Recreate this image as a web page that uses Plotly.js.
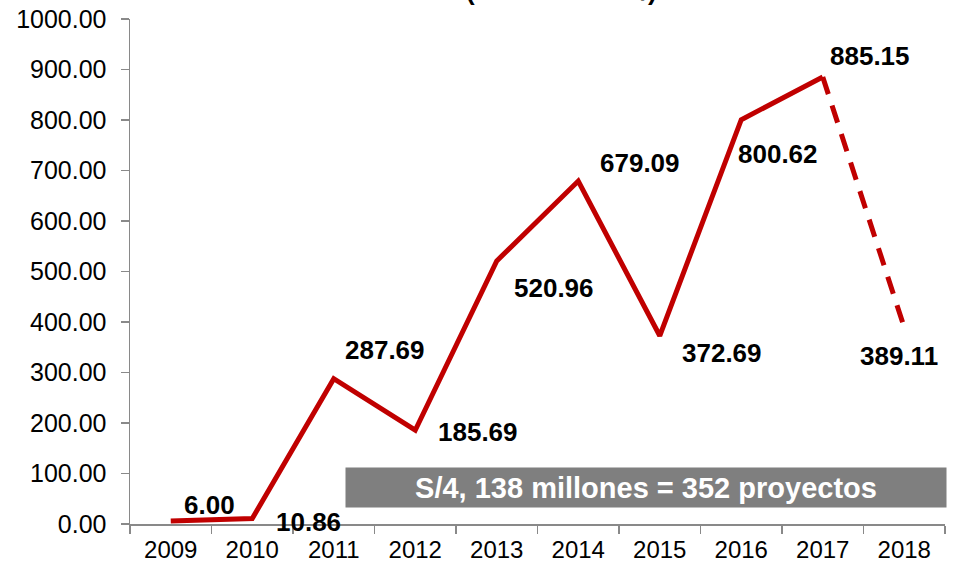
<!DOCTYPE html>
<html>
<head>
<meta charset="utf-8">
<script src="https://cdn.plot.ly/plotly-3.0.1.min.js"></script>
<style>html,body{margin:0;padding:0;background:#fff;}#chart{width:963px;height:570px;}</style>
</head>
<body>
<div id="chart"></div>
<script>
const years = ["2009","2010","2011","2012","2013","2014","2015","2016","2017","2018"];
const values = [6.00, 10.86, 287.69, 185.69, 520.96, 679.09, 372.69, 800.62, 885.15, 389.11];
const labelText = ["6.00","10.86","287.69","185.69","520.96","679.09","372.69","800.62","885.15","389.11"];
const labelShiftX = [39, 56, 51, 63, 57, 62, 62, 37, 47, -5];
const labelShiftY = [16, -3, 29, -2, -27, 18, -17, -34, 21, -28];
const boxText = "S/4, 138 millones = 352 proyectos";
const titleText = "(Millones de S/)";

const FONT = "Liberation Sans, Arial, sans-serif";
const solidN = 9;
const traces = [
  {x: years.slice(0, solidN), y: values.slice(0, solidN), type: "scatter", mode: "lines",
   line: {color: "#c00000", width: 5}, hoverinfo: "skip"},
  {x: years.slice(solidN - 1), y: values.slice(solidN - 1), type: "scatter", mode: "lines",
   line: {color: "#c00000", width: 5, dash: "18px,12px"}, hoverinfo: "skip"}
];

// category axis: annotation x uses the category's serial index
const annotations = years.map((yr, i) => ({
  x: years.indexOf(yr), y: values[i], xref: "x", yref: "y", text: "<b>" + labelText[i] + "</b>", showarrow: false,
  xanchor: "center", yanchor: "middle",
  xshift: labelShiftX[i], yshift: labelShiftY[i],
  font: {family: FONT, size: 26, color: "#000"}
}));
annotations.push({
  xref: "paper", yref: "paper", x: 1.003, y: 0.032, xanchor: "right", yanchor: "bottom",
  text: "<b>" + boxText + "</b>", showarrow: false, bgcolor: "#7f7f7f",
  width: 598, height: 37, align: "center", borderpad: 1,
  font: {family: FONT, size: 29, color: "#fff"}
});
annotations.push({
  xref: "paper", yref: "paper", x: 0.530, y: 1.0, yshift: 11, xanchor: "center", yanchor: "bottom",
  text: "<b>" + titleText + "</b>", showarrow: false,
  font: {family: FONT, size: 26, color: "#000"}
});

const layout = {
  width: 963, height: 570,
  margin: {l: 130, r: 18, t: 19, b: 46},
  paper_bgcolor: "#fff", plot_bgcolor: "#fff",
  showlegend: false,
  xaxis: {type: "category", showgrid: false, zeroline: false, showline: true, linecolor: "#898989", linewidth: 1.5,
          ticks: "outside", tickson: "boundaries", ticklen: 8, tickcolor: "#898989", tickwidth: 1.5,
          ticklabelstandoff: 4,
          tickfont: {family: FONT, size: 24, color: "#000"}, range: [-0.5, 9.5]},
  yaxis: {range: [0, 1000], dtick: 100, tickformat: ".2f", showgrid: false, zeroline: false,
          showline: true, linecolor: "#898989", linewidth: 1.5, ticks: "outside", ticklen: 8,
          tickcolor: "#898989", tickwidth: 1.5, ticklabelstandoff: 9,
          tickfont: {family: FONT, size: 25, color: "#000"}},
  annotations: annotations
};

Plotly.newPlot("chart", traces, layout, {displayModeBar: false, staticPlot: true});
</script>
</body>
</html>
